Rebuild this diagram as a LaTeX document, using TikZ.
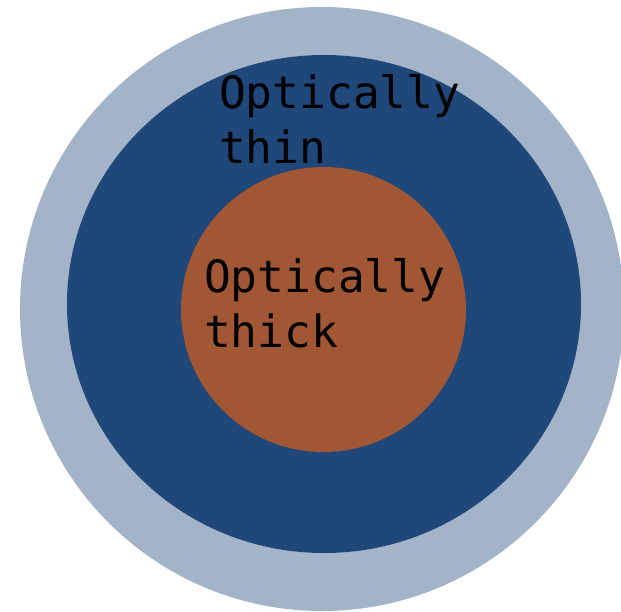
\documentclass[tikz,border=0pt]{standalone}
\usepackage{fontspec}
\setmonofont{DejaVu Sans Mono}
\usepackage{tikz}
\usetikzlibrary{positioning}
\definecolor{haloblue}{RGB}{163,179,200}
\definecolor{thinblue}{RGB}{31,71,122}
\definecolor{thickrust}{RGB}{161,87,51}
\tikzstyle{region}     = [inner sep=0pt, anchor=north west, align=left, text=black,
                          font=\ttfamily\fontsize{44.5}{55}\selectfont]

\begin{document}
\begin{tikzpicture}[x=1pt, y=-1pt]
  \useasboundingbox (0,0) rectangle (621,612);
  % layers, outside in
  \fill[haloblue]  (322,309) circle (302);
  \fill[thinblue]  (324,304) ellipse [x radius=257, y radius=249];
  \fill[thickrust] (323.5,309.5) circle (142.5);

  \node[region] (thin)  at (219,74)  {Optically\\thin};
  \node[region] (thick) at (204,258) {Optically\\thick};
\end{tikzpicture}
\end{document}
